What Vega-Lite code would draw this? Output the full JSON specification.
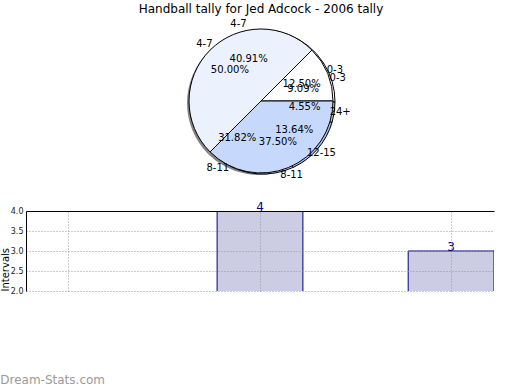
{
  "$schema": "https://vega.github.io/schema/vega-lite/v6.json",
  "padding": {"top": 3, "left": 0, "right": 0, "bottom": 0},
  "background": "white",
  "config": {"view": {"stroke": null}, "font": "DejaVu Sans"},
  "datasets": {
    "pie1": [
      {"label": "0-3", "count": 1, "pct": "12.50%", "n": 0},
      {"label": "4-7", "count": 4, "pct": "50.00%", "n": 1},
      {"label": "8-11", "count": 3, "pct": "37.50%", "n": 2}
    ],
    "pie2": [
      {"label": "0-3", "count": 2, "pct": "9.09%", "n": 0},
      {"label": "4-7", "count": 9, "pct": "40.91%", "n": 1},
      {"label": "8-11", "count": 7, "pct": "31.82%", "n": 2},
      {"label": "12-15", "count": 3, "pct": "13.64%", "n": 3},
      {"label": "24+", "count": 1, "pct": "4.55%", "n": 4}
    ]
  },
  "bounds": "flush",
  "spacing": 33,
  "vconcat": [
    {
      "width": 470,
      "height": 154,
      "title": {"text": "Handball tally for Jed Adcock - 2006 tally", "fontSize": 12, "fontWeight": "normal", "color": "black", "anchor": "middle", "offset": 3},
      "layer": [
        {
          "data": {"name": "pie1"},
          "mark": {"type": "arc", "outerRadius": 72, "xOffset": -2, "yOffset": 2, "fill": "#6f6f6f", "opacity": 0.85},
          "encoding": {
            "theta": {"field": "count", "type": "quantitative", "stack": true, "scale": {"range": [1.5708, -4.7124]}},
            "order": {"field": "n"}
          }
        },
        {
          "data": {"name": "pie2"},
          "mark": {"type": "arc", "outerRadius": 72, "xOffset": 2, "yOffset": 1, "stroke": "black", "strokeWidth": 1},
          "encoding": {
            "theta": {"field": "count", "type": "quantitative", "stack": true, "scale": {"range": [1.5708, -4.7124]}},
            "order": {"field": "n"},
            "color": {"field": "label", "type": "nominal", "legend": null, "scale": {"domain": ["0-3", "4-7", "8-11", "12-15", "24+"], "range": ["#ffffff", "#ebf2fe", "#c6d9fd", "#9dbcf3", "#bcd67a"]}}
          }
        },
        {
          "data": {"name": "pie1"},
          "mark": {"type": "arc", "outerRadius": 72, "stroke": "black", "strokeWidth": 1},
          "encoding": {
            "theta": {"field": "count", "type": "quantitative", "stack": true, "scale": {"range": [1.5708, -4.7124]}},
            "order": {"field": "n"},
            "color": {"field": "label", "type": "nominal", "legend": null}
          }
        },
        {
          "data": {"name": "pie2"},
          "mark": {"type": "text", "radius": 80, "fontSize": 10, "color": "black"},
          "encoding": {
            "theta": {"field": "count", "type": "quantitative", "stack": true, "scale": {"range": [1.5708, -4.7124]}},
            "order": {"field": "n"},
            "detail": {"field": "label"},
            "text": {"field": "label"}
          }
        },
        {
          "data": {"name": "pie2"},
          "mark": {"type": "text", "radius": 44, "fontSize": 10, "color": "black"},
          "encoding": {
            "theta": {"field": "count", "type": "quantitative", "stack": true, "scale": {"range": [1.5708, -4.7124]}},
            "order": {"field": "n"},
            "detail": {"field": "label"},
            "text": {"field": "pct"}
          }
        },
        {
          "data": {"name": "pie1"},
          "mark": {"type": "text", "radius": 80, "fontSize": 10, "color": "black"},
          "encoding": {
            "theta": {"field": "count", "type": "quantitative", "stack": true, "scale": {"range": [1.5708, -4.7124]}},
            "order": {"field": "n"},
            "detail": {"field": "label"},
            "text": {"field": "label"}
          }
        },
        {
          "data": {"name": "pie1"},
          "mark": {"type": "text", "radius": 44, "fontSize": 10, "color": "black"},
          "encoding": {
            "theta": {"field": "count", "type": "quantitative", "stack": true, "scale": {"range": [1.5708, -4.7124]}},
            "order": {"field": "n"},
            "detail": {"field": "label"},
            "text": {"field": "pct"}
          }
        }
      ],
      "resolve": {"scale": {"theta": "independent"}}
    },
    {
      "width": 468,
      "height": 80,
      "data": {"name": "pie1"},
      "title": {"text": "Dream-Stats.com", "orient": "bottom", "anchor": "start", "frame": "bounds", "offset": 80, "fontSize": 12, "fontWeight": "normal", "color": "#9a9a9a"},
      "encoding": {
        "x": {
          "field": "label", "type": "nominal", "sort": null,
          "scale": {"paddingInner": 0.551, "paddingOuter": 0},
          "axis": {"orient": "top", "labels": false, "ticks": false, "title": null, "domain": true, "domainColor": "black", "domainWidth": 1, "grid": true, "gridColor": "#999999", "gridDash": [1, 2], "bandPosition": 0.5, "zindex": 1}
        },
        "y": {
          "field": "count", "type": "quantitative",
          "scale": {"domain": [2, 4]},
          "axis": {"values": [2, 2.5, 3, 3.5, 4], "format": ".1f", "labelFontSize": 8, "labelColor": "#222222", "labelPadding": 3, "tickSize": 0, "domainColor": "black", "grid": true, "gridColor": "#999999", "gridDash": [1, 2], "title": "Intervals", "titleFontSize": 10, "titleFontWeight": "normal", "titleColor": "black", "titlePadding": 0, "titleAnchor": "start", "zindex": 1}
        }
      },
      "layer": [
        {
          "mark": {"type": "bar", "fill": "#ccccE5", "stroke": "#000080", "strokeWidth": 1, "clip": true}
        },
        {
          "transform": [{"filter": "datum.count >= 2"}],
          "mark": {"type": "text", "color": "#000080", "fontSize": 12, "baseline": "alphabetic"},
          "encoding": {"text": {"field": "count"}}
        }
      ]
    }
  ]
}
